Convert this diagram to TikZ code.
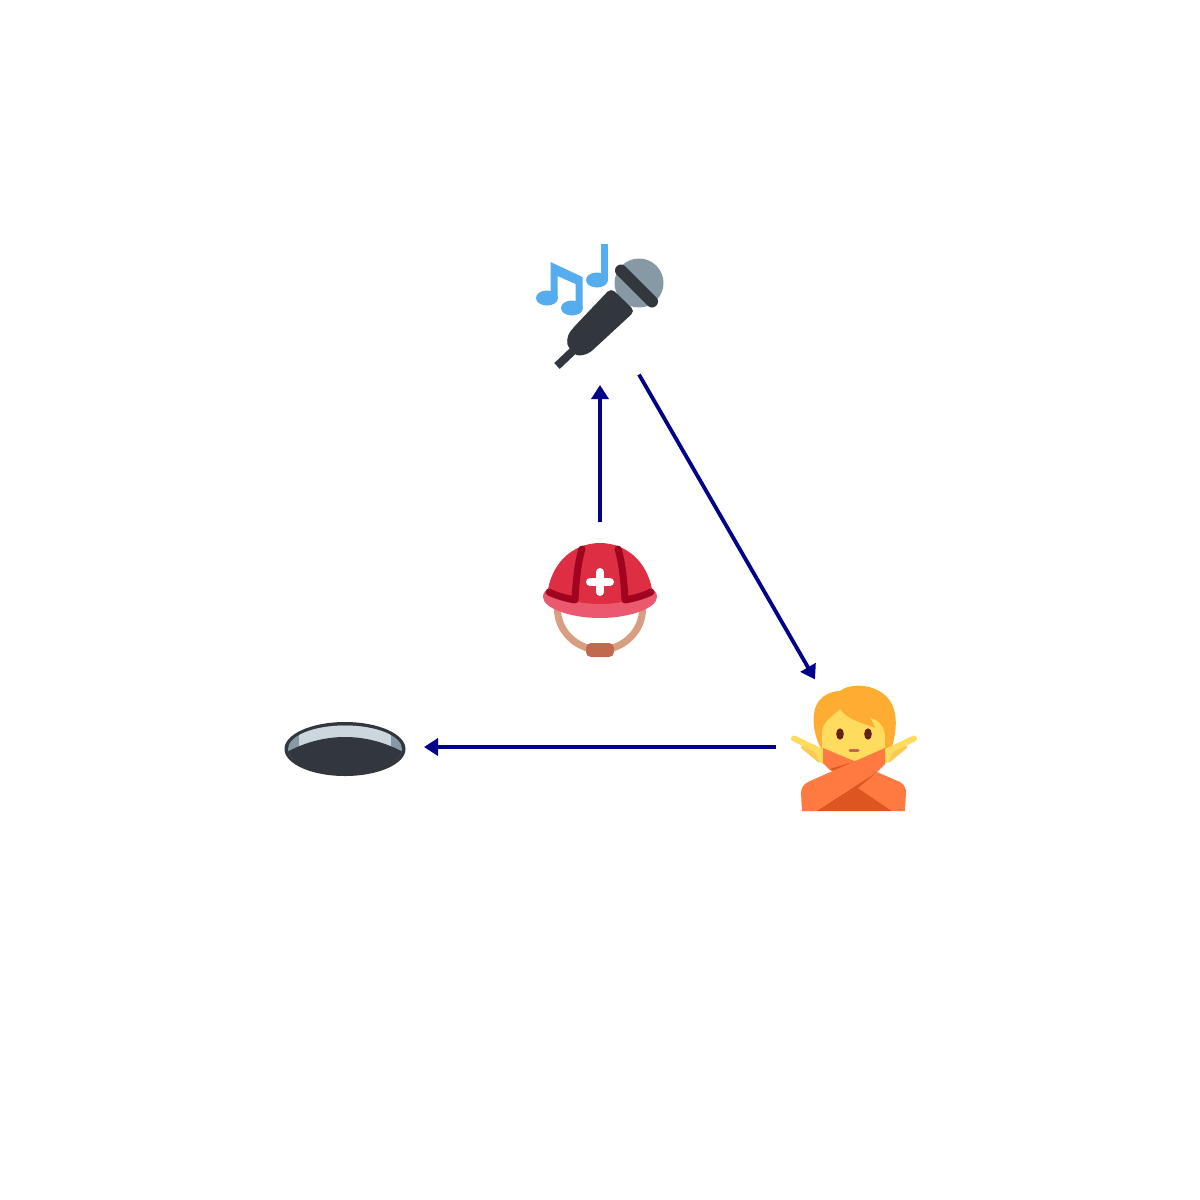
\documentclass[tikz,border=0pt]{standalone}
\usetikzlibrary{arrows.meta}
\definecolor{arrowblue}{HTML}{00008B}
\definecolor{tdark}{HTML}{31373D}
\definecolor{tgrey}{HTML}{8899A6}
\definecolor{tlight}{HTML}{CCD6DD}
\definecolor{tnote}{HTML}{55ACEE}
\definecolor{tred}{HTML}{DD2E44}
\definecolor{tdeep}{HTML}{A0041E}
\definecolor{tbrim}{HTML}{EA596E}
\definecolor{tstrap}{HTML}{D99E82}
\definecolor{tbuckle}{HTML}{C1694F}
\definecolor{thair}{HTML}{FFAC33}
\definecolor{tskin}{HTML}{FFDC5D}
\definecolor{tskinb}{HTML}{F9CA55}
\definecolor{teye}{HTML}{662113}
\definecolor{tcloth}{HTML}{FF7A41}
\definecolor{tclothb}{HTML}{DD551F}
\tikzset{
  place/.style={circle,minimum size=156pt,inner sep=0pt,outer sep=0pt},
  link/.style={draw=arrowblue,line width=3.8pt,-{Triangle[length=14pt,width=17pt]}}
}
\begin{document}
\begin{tikzpicture}[x=1pt,y=-1pt]
\useasboundingbox (0,0) rectangle (1200,1200);
\fill[white] (0,0) rectangle (1200,1200);
\node[place] (mic) at (600,307) {};
\node[place] (helmet) at (600,600) {};
\node[place] (person) at (854,747) {};
\node[place] (hole) at (346,747) {};
% microphone
\fill[tnote] (547,298) ellipse [x radius=11,y radius=7.5];
\fill[tnote] (572,308) ellipse [x radius=11,y radius=7.5];
\fill[tnote] (550.5,298) -- (550.5,262) -- (582.5,277) -- (582.5,308) -- (575.5,308) -- (575.5,284) -- (557.5,276) -- (557.5,298) -- cycle;
\fill[tnote] (597,280) ellipse [x radius=11,y radius=7.5];
\fill[tnote] (600.5,280) rectangle (607.5,244);
\fill[tgrey] (639,283) circle [radius=24.5];
\draw[tdark,line width=12pt,line cap=round,line join=round] (621,270.5) -- (652,301.5);
\draw[tdark,line width=8pt] (577,347) -- (557,366);
\fill[tdark,rounded corners=5pt] (611,288) -- (635,311) -- (595,348) .. controls (586,356) and (577,356) .. (572,351) .. controls (566,344) and (567,336) .. (573,328) -- cycle;
% helmet
\draw[tstrap,line width=7pt] (557.5,608) .. controls (557,632) and (578,650) .. (600,650) .. controls (622,650) and (643,632) .. (642.5,608);
\fill[tbuckle,rounded corners=5pt] (586,643) rectangle (614,657);
\fill[tred] (547,600) .. controls (548,565) and (572,543) .. (600,543) .. controls (628,543) and (652,565) .. (653,600) -- (640,608) -- (560,608) -- cycle;
\fill[tbrim] (543,597) .. controls (543,592) and (546,590) .. (548,590) .. controls (565,600) and (580,604) .. (600,604) .. controls (620,604) and (635,600) .. (652,590) .. controls (654,590) and (657,592) .. (657,597) .. controls (657,608) and (630,618) .. (600,618) .. controls (570,618) and (543,608) .. (543,597) -- cycle;
\draw[tdeep,line width=7pt,line cap=round,line join=round] (582,549) .. controls (578,562) and (576,580) .. (575,600) .. controls (565,598) and (557,596) .. (549,592);
\draw[tdeep,line width=7pt,line cap=round,line join=round] (618,549) .. controls (622,562) and (624,580) .. (625,600) .. controls (635,598) and (643,596) .. (651,592);
\draw[white,line width=8pt,line cap=round] (590,582) -- (610,582);
\draw[white,line width=8pt,line cap=round] (600,572) -- (600,592);
% person
\fill[thair] (822,750) .. controls (813,735) and (811,715) .. (817,704) .. controls (822,695) and (832,691) .. (840,691) .. controls (848,684) and (872,682) .. (887,697) .. controls (899,710) and (897,732) .. (891,750) -- cycle;
\fill[tskin] (822,748) -- (822,733) .. controls (822,722) and (832,717) .. (840,709) .. controls (847,720) and (860,722) .. (875,728) .. controls (874,724) and (872,720) .. (870,718) .. controls (880,720) and (885,728) .. (885,738) -- (885,748) -- (854,765) -- cycle;
\fill[teye] (840,734) ellipse [x radius=3.8,y radius=5.7];
\fill[teye] (868,734) ellipse [x radius=3.8,y radius=5.7];
\draw[tbuckle,line width=3pt,line cap=round] (850,750.5) -- (858,750.5);
\fill[tskinb] (801,748) -- (803,741) -- (823,752) -- (823,763) -- (818,762) -- cycle;
\fill[tskinb] (907,748) -- (905,741) -- (885,752) -- (885,763) -- (890,762) -- cycle;
\draw[tskin,line width=6pt,line cap=round] (794,738.5) -- (822,752);
\draw[tskin,line width=6pt,line cap=round] (914,738.5) -- (886,752);
\fill[tskin] (823,750) -- (812,746) -- (819,761) -- (823,763) -- cycle;
\fill[tskin] (885,750) -- (896,746) -- (889,761) -- (885,763) -- cycle;
\fill[tcloth] (823,748) -- (854,761) -- (877,772) -- (900,782) .. controls (905,785) and (906,789) .. (906,793) -- (905,811) -- (892,811) -- (858,788) -- (830,770) -- (823,763) -- cycle;
\fill[tclothb] (816,811) -- (877,772) -- (858,788) -- (892,811) -- cycle;
\fill[tclothb] (830,769) -- (853,762) -- (836,771.5) -- cycle;
\fill[tcloth] (802,811) -- (801,793) .. controls (801,788) and (804,784) .. (808,782) -- (853,762) -- (885,748) -- (885,764) -- (877,772) -- (816,811) -- cycle;
% hole
\fill[tdark] (345,749) ellipse [x radius=60.5,y radius=27];
\begin{scope}
\clip (345,749) ellipse [x radius=57,y radius=23.5];
\fill[tgrey] (285,720) rectangle (405,760);
\fill[tlight] (299,720) rectangle (391,746);
\fill[tdark] (285,753) .. controls (305,742) and (325,737) .. (345,737) .. controls (365,737) and (385,742) .. (405,753) -- (405,780) -- (285,780) -- cycle;
\end{scope}
% connectors
\draw[link] (helmet) -- (mic);
\draw[link] (mic) -- (person);
\draw[link] (person) -- (hole);
\end{tikzpicture}
\end{document}
